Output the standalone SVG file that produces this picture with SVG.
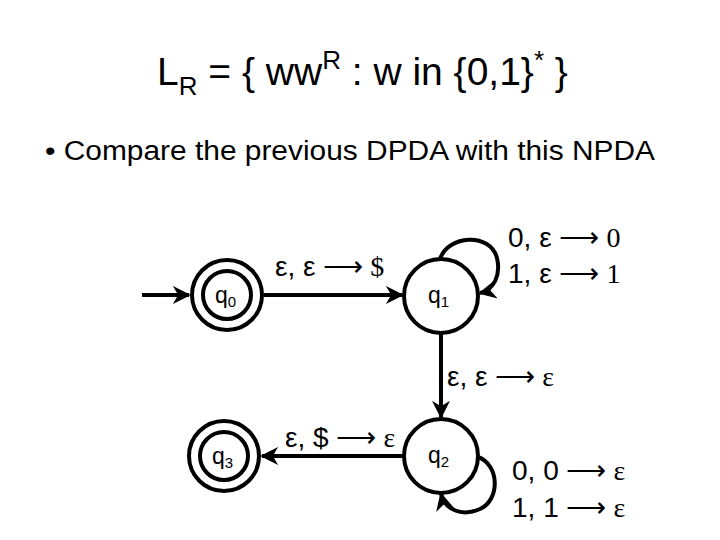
<svg xmlns="http://www.w3.org/2000/svg" width="720" height="540" viewBox="0 0 720 540">
<defs>
<style>
.st{fill:none;stroke:#000;stroke-width:4}
.ln{fill:none;stroke:#000;stroke-width:4}
.t{font-family:"Liberation Sans",Arial,sans-serif;fill:#000}
.s{font-family:"Liberation Serif","Times New Roman",serif}
.lbl{font-size:28px}
.q{font-size:23px}
</style>
<marker id="ah" viewBox="0 0 10 10" refX="9" refY="5" markerWidth="4.5" markerHeight="4.5" orient="auto" markerUnits="strokeWidth">
<path d="M0,0 L10,5 L0,10 L3,5 z" fill="#000"/>
</marker>
</defs>
<rect width="720" height="540" fill="#fff"/>
<text class="t" x="157" y="85" font-size="39">L<tspan font-size="26" dy="10">R</tspan><tspan dy="-10"> = { ww</tspan><tspan font-size="26" dy="-16">R</tspan><tspan dy="16"> : w in {0,1}</tspan><tspan font-size="26" dy="-16">*</tspan><tspan dy="16"> }</tspan></text>
<text class="t" x="45" y="160" font-size="27" textLength="610" lengthAdjust="spacingAndGlyphs">• Compare the previous DPDA with this NPDA</text>
<g id="connectors">
<line class="ln" x1="142" y1="295" x2="189" y2="295" marker-end="url(#ah)"/>
<line class="ln" x1="264" y1="295" x2="402" y2="295" marker-end="url(#ah)"/>
<path class="ln" d="M440,259 C448,235 490,232 497,258 C501,275 494,290 480,293" marker-end="url(#ah)"/>
<line class="ln" x1="441" y1="333" x2="441" y2="417" marker-end="url(#ah)"/>
<path class="ln" d="M478,457 C500,465 500,500 480,509 C462,517 445,510 441,494" marker-end="url(#ah)"/>
<line class="ln" x1="404" y1="456" x2="262" y2="456" marker-end="url(#ah)"/>
</g>
<g id="q0">
<circle class="st" cx="227" cy="295" r="35"/>
<circle class="st" cx="227" cy="295" r="24"/>
<text class="t q" x="215" y="303">q<tspan font-size="15" dy="4">0</tspan></text>
</g>
<g id="q1">
<circle class="st" cx="441" cy="296" r="37"/>
<text class="t q" x="428" y="303">q<tspan font-size="15" dy="4">1</tspan></text>
</g>
<g id="q2">
<circle class="st" cx="441" cy="456" r="37"/>
<text class="t q" x="428" y="463">q<tspan font-size="15" dy="4">2</tspan></text>
</g>
<g id="q3">
<circle class="st" cx="224" cy="456" r="35"/>
<circle class="st" cx="224" cy="456" r="24"/>
<text class="t q" x="212" y="464">q<tspan font-size="15" dy="4">3</tspan></text>
</g>
<g id="labels">
<text class="t lbl" x="275" y="276">ε, ε <tspan class="s">⟶ $</tspan></text>
<text class="t lbl" x="508" y="247">0, ε <tspan class="s">⟶ 0</tspan></text>
<text class="t lbl" x="508" y="283">1, ε <tspan class="s">⟶ 1</tspan></text>
<text class="t lbl" x="447" y="386">ε, ε <tspan class="s">⟶ ε</tspan></text>
<text class="t lbl" x="285" y="447">ε, $ <tspan class="s">⟶ ε</tspan></text>
<text class="t lbl" x="512" y="480">0, 0 <tspan class="s">⟶ ε</tspan></text>
<text class="t lbl" x="512" y="517">1, 1 <tspan class="s">⟶ ε</tspan></text>
</g>
</svg>
